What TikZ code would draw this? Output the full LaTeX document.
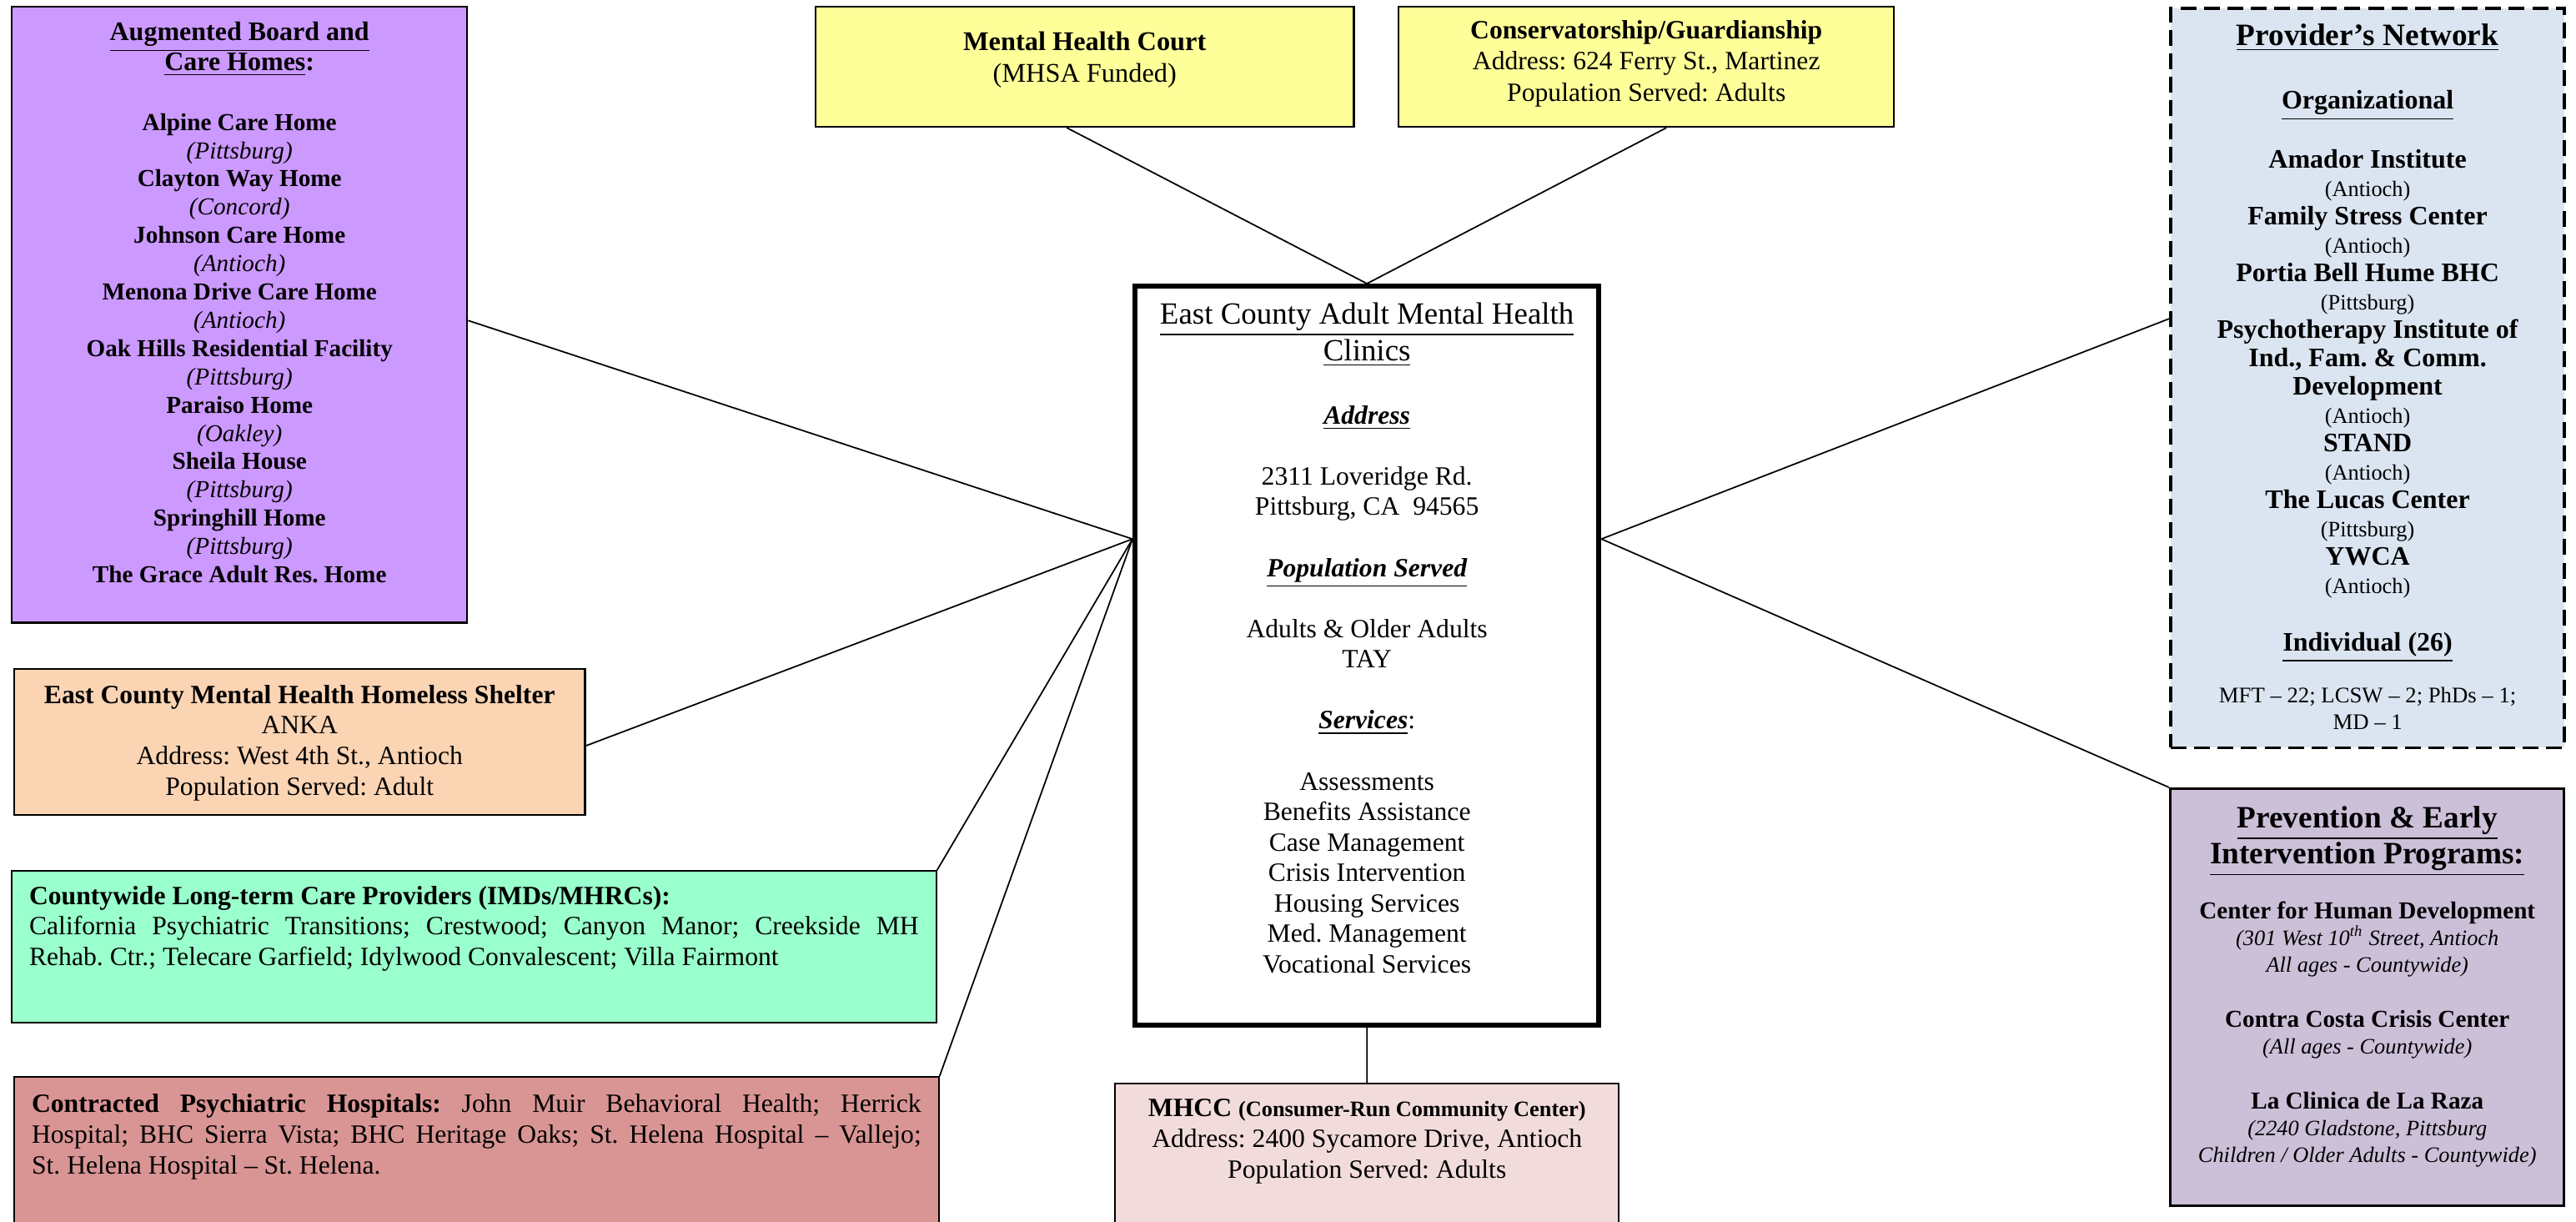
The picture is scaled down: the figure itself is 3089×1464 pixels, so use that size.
\documentclass[tikz,border=0pt]{standalone}
\usepackage{fontspec}
\setmainfont{Liberation Serif}
\usepackage{tikz}
\frenchspacing

\definecolor{boardFill}{HTML}{CC99FF}
\definecolor{courtFill}{HTML}{FFFF99}
\definecolor{shelterFill}{HTML}{FBD4B4}
\definecolor{careFill}{HTML}{99FFCC}
\definecolor{hospFill}{HTML}{D99594}
\definecolor{mhccFill}{HTML}{F2DBDB}
\definecolor{provFill}{HTML}{DBE5F1}
\definecolor{peiFill}{HTML}{CCC0D9}

\newcommand{\inBox}[3]{\parbox[c][#2][t]{#1}{#3}}
\newcommand{\fsz}[2]{\fontsize{#1}{#2}\selectfont}
\newcommand{\town}[1]{{\fsz{7.5}{9.67}\mdseries(#1)}}

\begin{document}
\begin{tikzpicture}[
    x=0.01cm, y=-0.01cm,
    line width=0.5pt,
    box/.style={%
      draw,
      anchor=north west,
      inner sep=0pt,
      line width=0.6pt,
    },
  ]

  \useasboundingbox (0,0) rectangle (3089,1464);
  \clip (0,0) rectangle (3089,1464);

  \node [box, fill=boardFill] (board) at (13,7) {\inBox{5.46cm}{7.38cm}{\centering
    \vspace*{5.2pt}
    {\fsz{9.1}{10.1}\bfseries \underline{Augmented Board and}\\ \underline{Care Homes}:\par}
    \vspace{10.85pt}
    {\fsz{8.3}{9.64}\textbf{Alpine Care Home}\\ \textit{(Pittsburg)}\\
      \textbf{Clayton Way Home}\\ \textit{(Concord)}\\
      \textbf{Johnson Care Home}\\ \textit{(Antioch)}\\
      \textbf{Menona Drive Care Home}\\ \textit{(Antioch)}\\
      \textbf{Oak Hills Residential Facility}\\ \textit{(Pittsburg)}\\
      \textbf{Paraiso Home}\\ \textit{(Oakley)}\\
      \textbf{Sheila House}\\ \textit{(Pittsburg)}\\
      \textbf{Springhill Home}\\ \textit{(Pittsburg)}\\
      \textbf{The Grace Adult Res. Home}\par}}};

  \node [box, fill=courtFill] (court) at (977,7) {\inBox{6.45cm}{1.44cm}{\centering
    \fsz{9.2}{10.8}\vspace*{8.5pt}
    \textbf{Mental Health Court}\\ (MHSA Funded)\par}};

  \node [box, fill=courtFill] (cons) at (1676,7) {\inBox{5.94cm}{1.44cm}{\centering
    \fsz{9}{10.7}\vspace*{4.65pt}
    \textbf{Conservatorship/Guardianship}\\ Address: 624 Ferry St., Martinez\\
    Population Served: Adults\par}};

  \node [box, fill=white, line width=1.7pt] (clinic) at (1358,340) {\inBox{5.56cm}{8.85cm}{\centering
    \vspace*{5.6pt}
    {\fsz{10.5}{12.5}\underline{East County Adult Mental Health}\\ \underline{Clinics}\par}
    \vspace{11.2pt}
    {\fsz{9}{10.4}\textbf{\textit{\underline{Address}}}\\[10.4pt]
      2311 Loveridge Rd.\\ Pittsburg, CA\ \ 94565\\[10.4pt]
      \textbf{\textit{\underline{Population Served}}}\\[10.4pt]
      Adults \& Older Adults\\ TAY\\[10.4pt]
      \textbf{\textit{\underline{Services}}}:\\[10.4pt]
      Assessments\\ Benefits Assistance\\ Case Management\\ Crisis Intervention\\
      Housing Services\\ Med. Management\\ Vocational Services\par}}};

  \node [box, fill=provFill, line width=1.1pt, dash pattern=on 5.4pt off 2.6pt] (provider) at (2601,8) {\inBox{4.72cm}{8.86cm}{\centering
    \vspace*{5.3pt}
    {\fsz{10.6}{12}\bfseries\underline{Provider's Network}\par}
    \vspace{11.1pt}
    {\fsz{9.1}{10.5}\bfseries\underline{Organizational}\par}
    \vspace{8.8pt}
    {\fsz{9.1}{9.67}\bfseries Amador Institute\\ \town{Antioch}\\
      Family Stress Center\\ \town{Antioch}\\
      Portia Bell Hume BHC\\ \town{Pittsburg}\\
      Psychotherapy Institute of\\ Ind., Fam. \& Comm.\\ Development\\ \town{Antioch}\\
      STAND\\ \town{Antioch}\\
      The Lucas Center\\ \town{Pittsburg}\\
      YWCA\\ \town{Antioch}\par}
    \vspace{9.1pt}
    {\fsz{9.1}{10.5}\bfseries\underline{Individual (26)}\par}
    \vspace{7.4pt}
    {\fsz{7.6}{9.1}MFT -- 22; LCSW -- 2; PhDs -- 1;\\ MD -- 1\par}}};

  \node [box, fill=peiFill, line width=0.9pt] (pei) at (2601,944) {\inBox{4.72cm}{5.00cm}{\centering
    \vspace*{5.9pt}
    {\fsz{10.6}{12.2}\bfseries\underline{Prevention \& Early}\\ \underline{Intervention Programs:}\par}
    \vspace{7.7pt}
    {\fsz{8.3}{9.1}\textbf{Center for Human Development}\\
      {\fsz{7.5}{9.1}\itshape (301 West 10\textsuperscript{th} Street, Antioch\\ All ages - Countywide)}\\[9.7pt]
      \textbf{Contra Costa Crisis Center}\\
      {\fsz{7.5}{9.1}\itshape (All ages - Countywide)}\\[9.7pt]
      \textbf{La Clinica de La Raza}\\
      {\fsz{7.5}{9.1}\itshape (2240 Gladstone, Pittsburg\\ Children / Older Adults - Countywide)}\par}}};

  \node [box, fill=shelterFill] (shelter) at (16,801) {\inBox{6.84cm}{1.75cm}{\centering
    \fsz{9}{10.4}\vspace*{5.5pt}
    \textbf{East County Mental Health Homeless Shelter}\\ ANKA\\
    Address: West 4th St., Antioch\\ Population Served: Adult\par}};

  \node [box, fill=careFill, inner xsep=0.21cm] (care) at (13,1043) {\inBox{10.66cm}{1.82cm}{%
    \fsz{9}{10.4}\vspace*{5.2pt}
    \textbf{Countywide Long-term Care Providers (IMDs/MHRCs):}\\
    California Psychiatric Transitions; Crestwood; Canyon Manor; Creekside MH\linebreak
    Rehab. Ctr.; Telecare Garfield; Idylwood Convalescent; Villa Fairmont\par}};

  \node [box, fill=hospFill, inner xsep=0.21cm] (hosp) at (16,1290) {\inBox{10.66cm}{1.90cm}{%
    \fsz{9}{10.5}\vspace*{5.8pt}
    \textbf{Contracted Psychiatric Hospitals:} John Muir Behavioral Health; Herrick\linebreak
    Hospital; BHC Sierra Vista; BHC Heritage Oaks; St. Helena Hospital -- Vallejo;\linebreak
    St. Helena Hospital -- St. Helena.\par}};

  \node [box, fill=mhccFill] (mhcc) at (1336,1298) {\inBox{6.04cm}{1.90cm}{\centering
    \fsz{9}{10.5}\vspace*{5.2pt}
    \textbf{MHCC} {\fsz{7.5}{10.5}\bfseries(Consumer-Run Community Center)}\\
    Address: 2400 Sycamore Drive, Antioch\\ Population Served: Adults\par}};

  \coordinate (hubL) at ([yshift=1.395cm]clinic.west);
  \coordinate (hubR) at ([yshift=1.395cm]clinic.east);

  \draw ([yshift=-0.07cm]board.east) -- (hubL);
  \draw ([yshift=-0.045cm]shelter.east) -- (hubL);
  \draw (care.north east) -- (hubL);
  \draw (hosp.north east) -- (hubL);
  \draw ([xshift=-0.215cm]court.south) -- (clinic.north);
  \draw ([xshift=0.24cm]cons.south) -- (clinic.north);
  \draw ([yshift=0.71cm]provider.west) -- (hubR);
  \draw (pei.north west) -- (hubR);
  \draw (clinic.south) -- (mhcc.north);
\end{tikzpicture}
\end{document}
